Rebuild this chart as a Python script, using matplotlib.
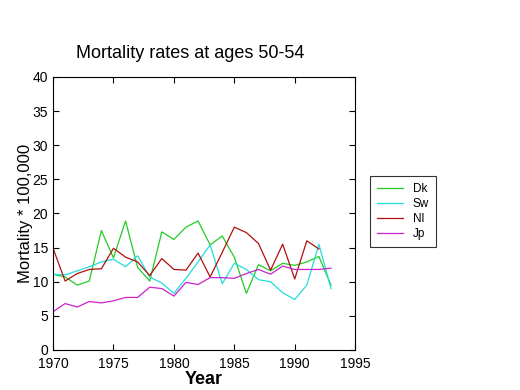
import numpy as np
import matplotlib
matplotlib.use("Agg")
import matplotlib.pyplot as plt

plt.rcParams["font.family"] = ["Liberation Sans", "DejaVu Sans"]

years = np.arange(1970, 1994)

# Denmark
dk = [11.1, 10.7, 9.5, 10.1, 17.5, 13.5, 18.9, 12.1, 10.1, 17.3, 16.2, 18.0,
      18.9, 15.4, 16.7, 13.6, 8.3, 12.5, 11.6, 12.7, 12.4, 12.9, 13.7, 9.5]
# Sweden
sw = [11.1, 11.0, 11.6, 12.2, 12.9, 13.3, 12.2, 13.8, 10.7, 9.8, 8.3, 10.5,
      12.9, 15.4, 9.7, 12.7, 11.8, 10.3, 10.0, 8.4, 7.4, 9.5, 15.5, 9.0]
# Netherlands (no 1993 value)
nl = [14.9, 10.1, 11.2, 11.8, 11.9, 14.9, 13.6, 12.9, 10.9, 13.4, 11.8, 11.7,
      14.2, 10.7, 14.3, 18.0, 17.2, 15.6, 11.7, 15.5, 10.4, 16.0, 14.8]
# Japan
jp = [5.6, 6.8, 6.3, 7.1, 6.9, 7.2, 7.7, 7.7, 9.2, 9.0, 7.9, 9.9,
      9.6, 10.6, 10.6, 10.5, 11.2, 11.8, 11.1, 12.3, 11.8, 11.8, 11.8, 12.0]

series = [("Dk", dk, "#22cc22"), ("Sw", sw, "#22dddd"),
          ("Nl", nl, "#b01010"), ("Jp", jp, "#cc22cc")]

fig = plt.figure(figsize=(5.2, 3.9), dpi=100)
ax = fig.add_axes([0.102, 0.1026, 0.581, 0.700])

for name, vals, col in series:
    ax.plot(years[:len(vals)], vals, color=col, linewidth=0.9, label=name)

ax.set_xlim(1970, 1995)
ax.set_ylim(0, 40)
ax.set_xticks(range(1970, 1996, 5))
ax.set_yticks(range(0, 41, 5))
ax.tick_params(direction="in", top=True, right=True, labelsize=10, length=4)
ax.tick_params(axis="x", pad=5)
for s in ax.spines.values():
    s.set_linewidth(0.8)

ax.set_title("Mortality rates at ages 50-54", fontsize=13, pad=14, x=0.453)
ax.set_xlabel("Year", fontsize=13, fontweight="bold", labelpad=0)
ax.set_ylabel("Mortality * 100,000", fontsize=12, labelpad=0)

leg = ax.legend(loc="upper left", bbox_to_anchor=(1.03, 0.66), fontsize=8.5,
                frameon=True, fancybox=False, edgecolor="black",
                handlelength=2.2, borderpad=0.6, labelspacing=0.25)
leg.get_frame().set_linewidth(0.8)

fig.savefig("out.png", dpi=100)
